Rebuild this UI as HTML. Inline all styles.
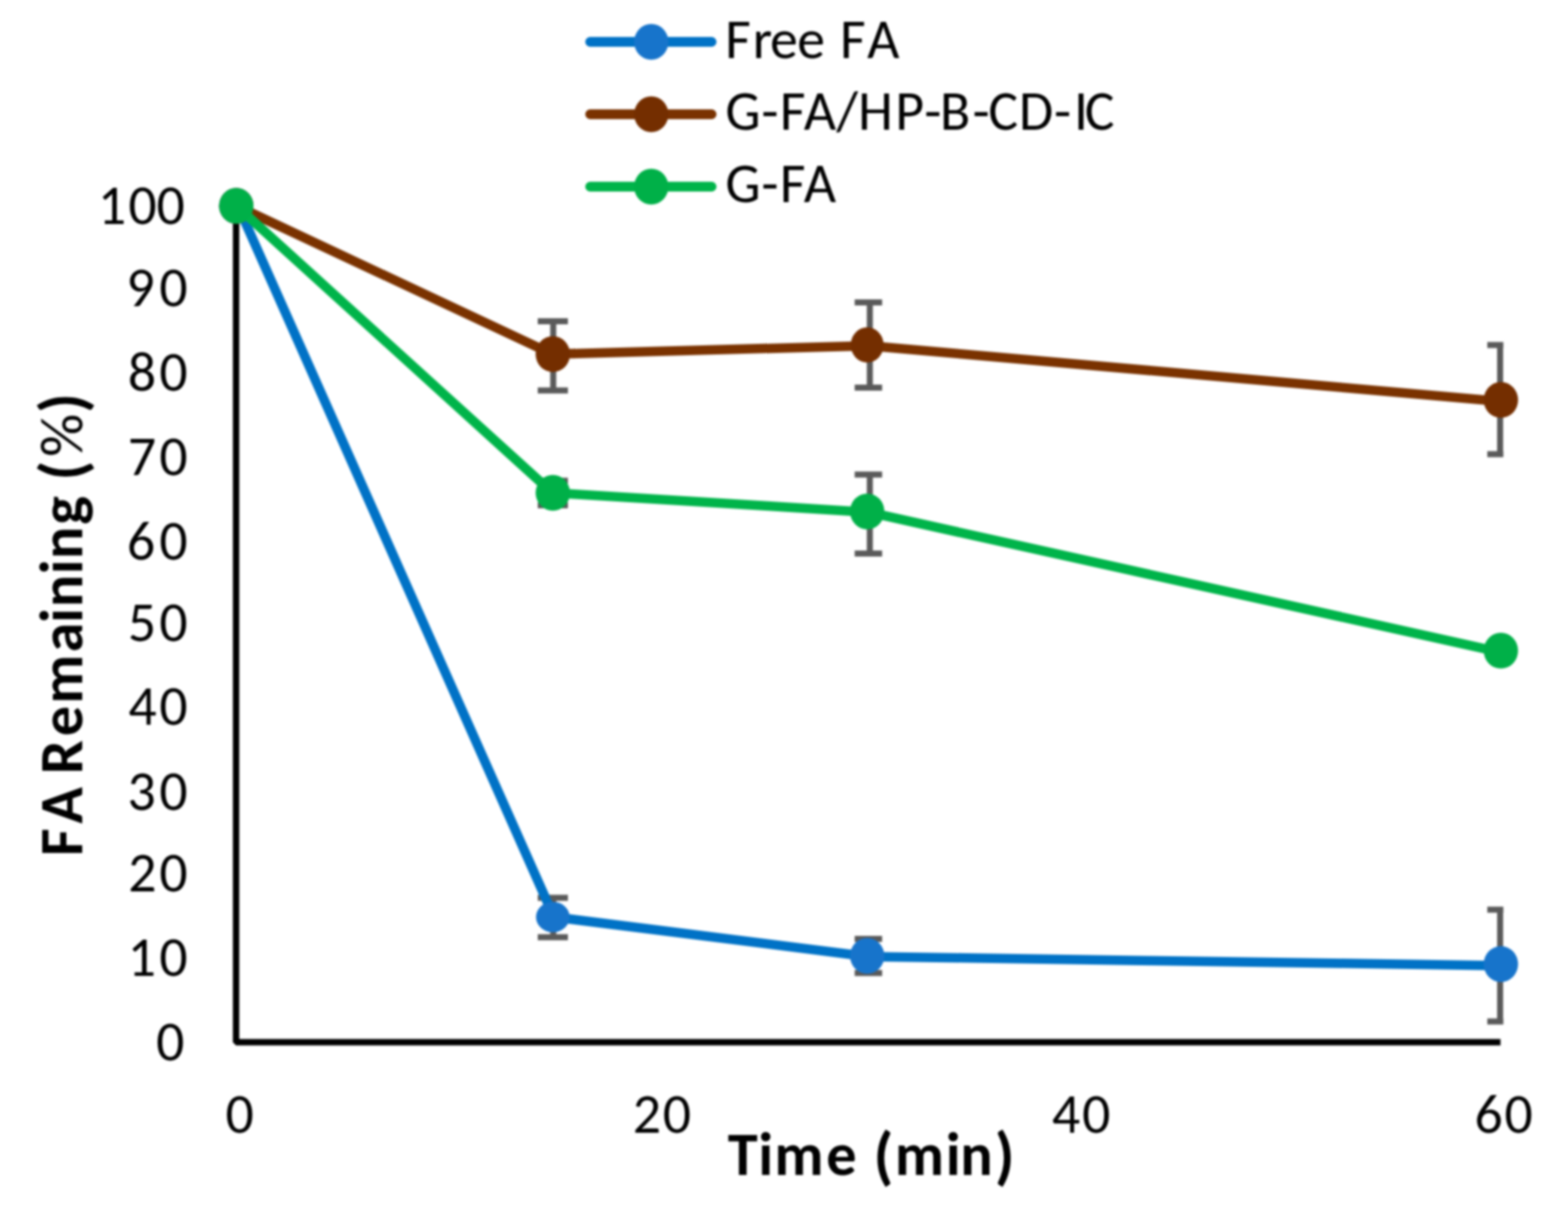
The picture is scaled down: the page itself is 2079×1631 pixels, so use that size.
<!DOCTYPE html>
<html><head><meta charset="utf-8"><title>FA Remaining vs Time</title>
<style>html,body{margin:0;padding:0;background:#fff;}body{width:2079px;height:1631px;overflow:hidden;}svg{display:block;filter:blur(1.4px);}</style>
</head><body>
<svg width="2079" height="1631" viewBox="0 0 2079 1631">
<rect width="2079" height="1631" fill="#fff"/>
<g font-family="Carlito, 'Liberation Sans', sans-serif" font-size="74" fill="#000" style="font-size-adjust:0.4775">
<text x="207" y="1406.2">0</text>
<text x="169.3 211.3" y="1293.8">10</text>
<text x="169.9 211.3" y="1181.8">20</text>
<text x="168.9 211.3" y="1074.1">30</text>
<text x="170.3 211.3" y="960.9">40</text>
<text x="169.5 211.3" y="850.4">50</text>
<text x="168.3 211.3" y="741.8">60</text>
<text x="169.4 211.3" y="629.9">70</text>
<text x="169.6 211.3" y="517.5">80</text>
<text x="167.4 211.3" y="405.8">90</text>
<text x="129.8 170.2 207.6" y="297.4">100</text>
<text x="298.9" y="1502.4">0</text>
<text x="839.1 878.7" y="1502.4">20</text>
<text x="1394.7 1434.8" y="1502.4">40</text>
<text x="1954.9 1994.8" y="1502.4">60</text>
<text x="961.6 998 1020.9 1056.9 1093.7 1113.8 1149.8" y="76.5">Free FA</text>
<text x="961.8 1009.6 1034 1065.7 1109 1137.8 1187 1225.4 1246.2 1289.4 1310.4 1351 1397.5 1423.9 1438.3" y="172.1">G-FA/HP-B-CD-IC</text>
<text x="961.8 1009.6 1034 1065.7" y="268.3">G-FA</text>
</g>
<text font-family="Carlito, 'Liberation Sans', sans-serif" font-size="80" font-weight="bold" fill="#000" style="font-size-adjust:0.4849" x="965.1 1005.5 1026.8 1095.6 1135.9" y="1557.8">Time <tspan font-size="84" x="1158.2" y="1561.3">(</tspan><tspan x="1186.4 1254 1273.3" y="1557.8">min</tspan><tspan font-size="84" x="1318.9" y="1561.3">)</tspan></text>
<text font-family="Carlito, 'Liberation Sans', sans-serif" font-size="80" font-weight="bold" fill="#000" style="font-size-adjust:0.4849" transform="translate(108.9 1134.0) rotate(-90)"><tspan x="-1.3 41.8 90.2 107.6 157.7 200.8 269 308.1 328.9 372.5 392.7 438.3 476.2" y="0">FA Remaining </tspan><tspan font-size="84" x="496.9" y="3.5">(</tspan><tspan x="528.3" y="0" font-weight="normal" style="font-size-adjust:0.4775">%</tspan><tspan font-size="84" x="586.6" y="3.5">)</tspan></text>
<path d="M782.5 55.5H943.5" stroke="#0072C6" stroke-width="13" stroke-linecap="round"/>
<ellipse cx="863.5" cy="55.5" rx="22.8" ry="23.8" fill="#1774CB"/>
<path d="M782.5 151.5H943.5" stroke="#7A3200" stroke-width="13" stroke-linecap="round"/>
<ellipse cx="863.5" cy="151.5" rx="22.8" ry="23.8" fill="#742E00"/>
<path d="M782.5 247.5H943.5" stroke="#00B44A" stroke-width="13" stroke-linecap="round"/>
<ellipse cx="863.5" cy="247.5" rx="22.8" ry="23.8" fill="#00B048"/>
<path d="M313 273.0V1382H1989.5" fill="none" stroke="#000" stroke-width="8.5" stroke-linejoin="bevel"/>
<defs><clipPath id="pc"><rect x="0" y="0" width="1993.3" height="1631"/></clipPath></defs>
<g clip-path="url(#pc)" stroke="#5A5A5A" stroke-width="8" fill="none"><path d="M733.5 1190.4V1242.8M713 1190.4H753M713 1242.8H753"/><path d="M1153.3 1245V1290.3M1133.2 1245H1169.6M1133.2 1290.3H1169.6"/><path d="M1989 1206.3V1354.4M1972 1206.3H2006M1972 1354.4H2006"/></g>
<path d="M315.5 273 L734.5 1216 L1151.5 1268.5 L1989.5 1280.4" fill="none" stroke="#0072C6" stroke-width="12.5" stroke-linejoin="round" stroke-linecap="round"/>
<ellipse cx="313.3" cy="273" rx="22.8" ry="23.8" fill="#1774CB"/><ellipse cx="733" cy="1216" rx="22.3" ry="20.3" fill="#1774CB"/><ellipse cx="1149.8" cy="1267.5" rx="22.8" ry="23.8" fill="#1774CB"/><ellipse cx="1990" cy="1278.4" rx="22.8" ry="23.8" fill="#1774CB"/>
<g clip-path="url(#pc)" stroke="#5A5A5A" stroke-width="8" fill="none"><path d="M733.5 426V517.7M713 426H753M713 517.7H753"/><path d="M1153.3 401V514M1133.2 401H1169.6M1133.2 514H1169.6"/><path d="M1989 457.4V602.3M1972 457.4H2006M1972 602.3H2006"/></g>
<path d="M313.5 273 L732.5 469.6 L1151.5 458.4 L1989.5 532.3" fill="none" stroke="#7A3200" stroke-width="12.5" stroke-linejoin="round" stroke-linecap="round"/>
<ellipse cx="313.3" cy="273" rx="22.8" ry="23.8" fill="#742E00"/><ellipse cx="733" cy="469.6" rx="22.8" ry="23.8" fill="#742E00"/><ellipse cx="1149.8" cy="457.4" rx="21.8" ry="23.3" fill="#742E00"/><ellipse cx="1990" cy="530.3" rx="22.8" ry="23.8" fill="#742E00"/>
<g clip-path="url(#pc)" stroke="#5A5A5A" stroke-width="8" fill="none"><path d="M733.5 637.5V670M713 637.5H753M713 670H753"/><path d="M1153.3 629.2V734M1133.2 629.2H1169.6M1133.2 734H1169.6"/></g>
<path d="M313.5 273 L732.5 653.5 L1151.5 679.2 L1989.5 864.8" fill="none" stroke="#00B44A" stroke-width="12.5" stroke-linejoin="round" stroke-linecap="round"/>
<ellipse cx="313.3" cy="273" rx="22.8" ry="23.8" fill="#00B048"/><ellipse cx="733" cy="653.5" rx="22.8" ry="23.8" fill="#00B048"/><ellipse cx="1149.8" cy="678.2" rx="22.8" ry="23.8" fill="#00B048"/><ellipse cx="1990" cy="862.8" rx="22.8" ry="23.8" fill="#00B048"/>
</svg>
</body></html>
